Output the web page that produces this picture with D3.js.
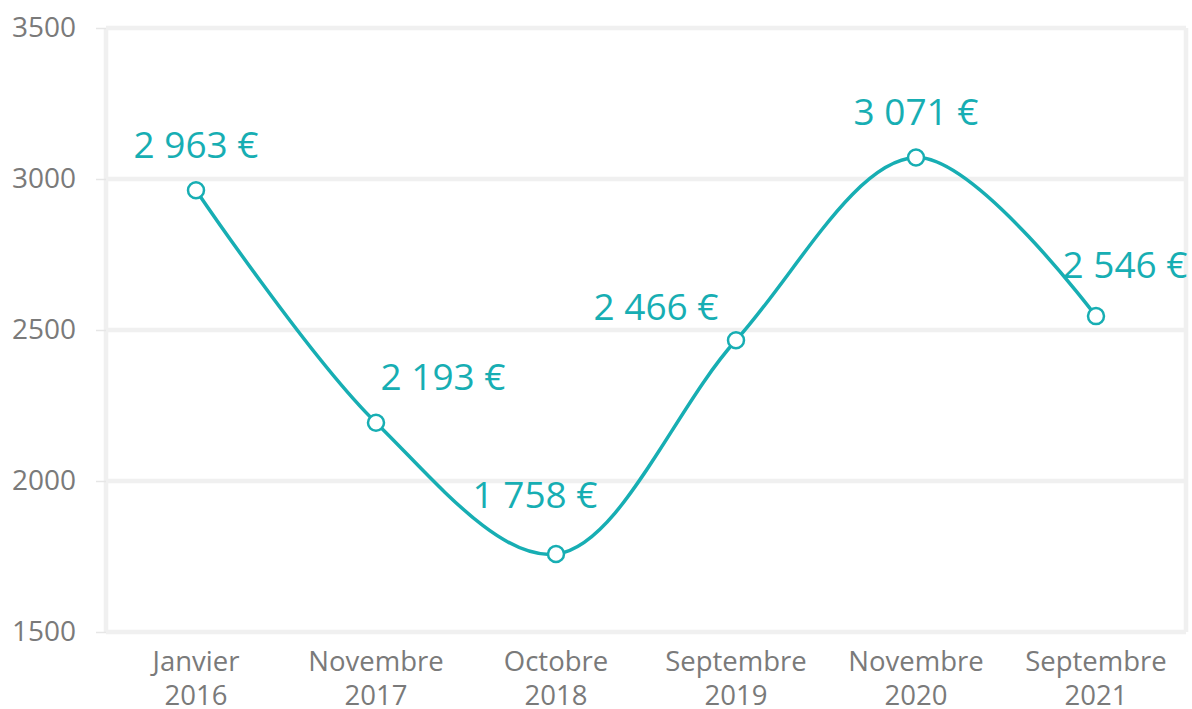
<!DOCTYPE html>
<html>
<head>
<meta charset="utf-8">
<script src="https://cdn.jsdelivr.net/npm/d3@7"></script>
<style>
  body { margin: 0; background: #fff; }
  text { font-family: "Open Sans", sans-serif; }
</style>
</head>
<body>
<svg id="chart"></svg>
<script>
// data
const months = ["Janvier", "Novembre", "Octobre", "Septembre", "Novembre", "Septembre"];
const years = ["2016", "2017", "2018", "2019", "2020", "2021"];
const values = [2963, 2193, 1758, 2466, 3071, 2546];
const yTicks = [1500, 2000, 2500, 3000, 3500];

// label placement (px, relative to the point)
const labelOffsets = [[0, -32], [67, -33], [-21, -46], [-80, -20], [0, -33], [29, -38]];

// constants
const width = 1192;
const height = 709;
const margin = { left: 106, right: 6, top: 28, bottom: 77 };
const visWidth = width - margin.left - margin.right;
const visHeight = height - margin.top - margin.bottom;

const teal = "#17AEB3";
const grid = "#F0F0F0";
const textGray = "#7A7A7A";

const svg = d3.select("#chart")
  .attr("width", width)
  .attr("height", height);

const chart = svg.append("g")
  .attr("transform", "translate(" + margin.left + "," + margin.top + ")");

const cats = months.map((m, i) => i);

const x = d3.scaleBand()
  .domain(cats)
  .range([0, visWidth]);

const y = d3.scaleLinear()
  .domain([1500, 3500])
  .range([visHeight, 0]);

// gridlines
chart.selectAll(".grid")
  .data(yTicks)
  .enter().append("line")
  .attr("x1", 0)
  .attr("x2", visWidth)
  .attr("y1", d => y(d))
  .attr("y2", d => y(d))
  .style("stroke", grid)
  .style("stroke-width", 4.5);

// frame sides
chart.append("line")
  .attr("x1", 0).attr("x2", 0)
  .attr("y1", 0).attr("y2", visHeight)
  .style("stroke", grid).style("stroke-width", 4.5);
chart.append("line")
  .attr("x1", visWidth).attr("x2", visWidth)
  .attr("y1", 0).attr("y2", visHeight)
  .style("stroke", grid).style("stroke-width", 4.5);

// y axis
const yAxis = chart.append("g")
  .call(d3.axisLeft(y).tickValues(yTicks).tickFormat(d3.format("d")).tickSize(10).tickPadding(20));
yAxis.select(".domain").remove();
yAxis.selectAll("line").style("stroke", "#E6E6E6").style("stroke-width", 1.5);
yAxis.selectAll("text")
  .style("font-family", "'Open Sans', sans-serif")
  .style("font-size", "28px")
  .style("fill", textGray);

// x labels
const xLabels = chart.selectAll(".xlab")
  .data(cats)
  .enter().append("text")
  .attr("class", "xlab")
  .attr("x", d => x(d) + x.bandwidth() / 2)
  .attr("y", visHeight + 39)
  .attr("text-anchor", "middle")
  .style("font-size", "27.5px")
  .style("fill", textGray);
xLabels.append("tspan")
  .attr("x", d => x(d) + x.bandwidth() / 2)
  .text(d => months[d]);
xLabels.append("tspan")
  .attr("x", d => x(d) + x.bandwidth() / 2)
  .attr("dy", 34)
  .text(d => years[d]);

// line
const line = d3.line()
  .x(d => x(d) + x.bandwidth() / 2)
  .y(d => y(values[d]))
  .curve(d3.curveCatmullRom.alpha(0.5));

chart.append("path")
  .datum(cats)
  .attr("d", line)
  .style("fill", "none")
  .style("stroke", teal)
  .style("stroke-width", 3.5);

// markers
chart.selectAll(".dot")
  .data(cats)
  .enter().append("circle")
  .attr("cx", d => x(d) + x.bandwidth() / 2)
  .attr("cy", d => y(values[d]))
  .attr("r", 8)
  .style("fill", "#fff")
  .style("stroke", teal)
  .style("stroke-width", 2.5);

// data labels
const fmt = v => d3.format(",")(v).replace(",", " ") + " €";
chart.selectAll(".vlab")
  .data(cats)
  .enter().append("text")
  .attr("x", d => x(d) + x.bandwidth() / 2 + labelOffsets[d][0])
  .attr("y", d => y(values[d]) + labelOffsets[d][1])
  .attr("text-anchor", "middle")
  .style("font-size", "37px")
  .style("fill", teal)
  .text(d => fmt(values[d]));
</script>
</body>
</html>
